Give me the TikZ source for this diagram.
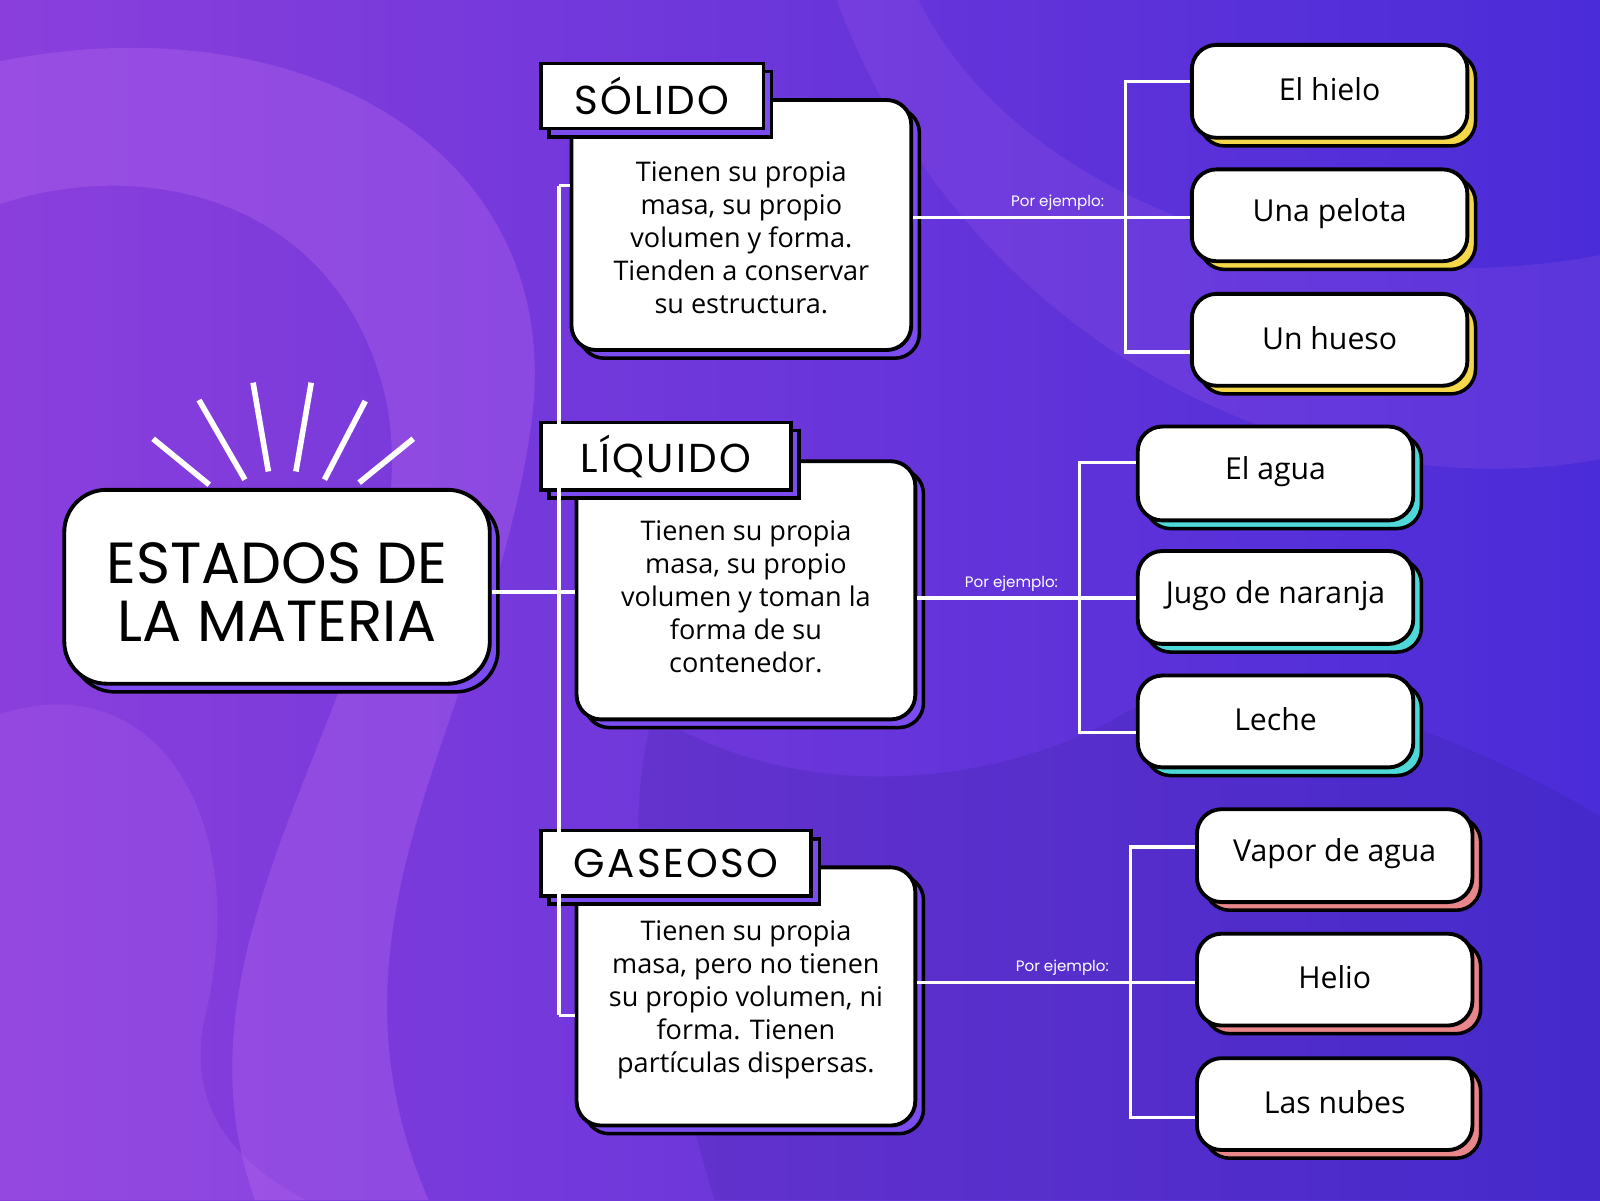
\documentclass[tikz,border=0pt]{standalone}
\usepackage{fontspec}
\setmainfont{Open Sans}
\newfontfamily\hfont[LetterSpace=6]{Poppins}
\newfontfamily\tfont{Poppins}
\usetikzlibrary{shadings}
\definecolor{bgl}{HTML}{8A3FDC}
\definecolor{bgr}{HTML}{4A2CD8}
\definecolor{swl}{HTML}{C070F0}
\definecolor{shp}{HTML}{7B4DF0}
\definecolor{shy}{HTML}{F5D84A}
\definecolor{shc}{HTML}{4FD8D8}
\definecolor{shr}{HTML}{E8868A}
\def\px{0.010204cm}
\tikzset{
 box/.style={draw=black, line width=1.1pt, fill=white, inner sep=0pt, align=center},
 lab/.style={draw=black, line width=1pt, fill=white, inner sep=0pt},
 conn/.style={draw=white, line width=1pt},
 ray/.style={draw=white, line width=1.6pt},
 pe/.style={text=white, font=\tfont\fontsize{4.3}{5}\selectfont, inner sep=1.5pt, anchor=south},
 dtext/.style={font=\fontsize{7.7}{9.4}\selectfont, align=center},
 etext/.style={font=\fontsize{8.6}{10}\selectfont},
 ltext/.style={font=\hfont\fontsize{11.5}{13}\selectfont},
}
\newcommand\mybox[8]{%
 \draw[line width=1pt, fill=#8, rounded corners=#7] ({#2+8},{#3+8}) rectangle ({#4+8},{#5+8});
 \node[#6, rounded corners=#7, minimum width={(#4-#2)*\px}, minimum height={(#5-#3)*\px}] (#1) at ({(#2+#4)/2},{(#3+#5)/2}) {};}
\begin{document}
\begin{tikzpicture}[x=\px, y=-\px]
\shade[left color=bgl, right color=bgr] (0,0) rectangle (1568,1176);
\useasboundingbox (0,0) rectangle (1568,1176);
\fill[swl, opacity=0.3] (0,60) .. controls (300,0) and (560,150) .. (520,420) .. controls (480,700) and (300,900) .. (420,1176) -- (250,1176) .. controls (150,900) and (420,650) .. (380,400) .. controls (340,200) and (150,150) .. (0,200) -- cycle;
\fill[swl, opacity=0.2] (0,700) .. controls (150,650) and (250,800) .. (200,1000) .. controls (180,1100) and (250,1150) .. (300,1176) -- (0,1176) -- cycle;
\fill[swl, opacity=0.15] (900,0) .. controls (1000,200) and (1300,300) .. (1568,250) -- (1568,450) .. controls (1300,500) and (950,350) .. (820,0) -- cycle;
\fill[bgr!70!black, opacity=0.2] (640,700) .. controls (800,800) and (1000,760) .. (1100,700) .. controls (1200,640) and (1400,700) .. (1568,800) -- (1568,1176) -- (700,1176) .. controls (650,1000) and (600,850) .. (640,700) -- cycle;
% rays
\draw[ray] (150,430) -- (205,475);
\draw[ray] (195,392) -- (240,470);
\draw[ray] (248,375) -- (263,462);
\draw[ray] (305,375) -- (290,462);
\draw[ray] (358,393) -- (318,470);
\draw[ray] (405,430) -- (352,473);
% main
\mybox{main}{63}{480}{480}{670}{box}{12pt}{shp}
\node[font=\tfont\fontsize{16.5}{16.5}\selectfont, align=center] at ([yshift=-0.05cm]main.center) {ESTADOS DE\\LA MATERIA};
% desc boxes
\mybox{ds}{560}{98}{893}{343}{box}{7pt}{shp}
\mybox{dl}{565}{452}{897}{705}{box}{7pt}{shp}
\mybox{dg}{565}{850}{897}{1103}{box}{7pt}{shp}
\node[dtext] at ([yshift=-0.13cm]ds.center) {Tienen su propia\\masa, su propio\\volumen y forma.\\Tienden a conservar\\su estructura.};
\node[dtext] at ([yshift=-0.06cm]dl.center) {Tienen su propia\\masa, su propio\\volumen y toman la\\forma de su\\contenedor.};
\node[dtext] at ([yshift=-0.03cm]dg.center) {Tienen su propia\\masa, pero no tienen\\su propio volumen, ni\\forma. Tienen\\partículas dispersas.};
% labels
\mybox{ls}{530}{62}{748}{126}{lab}{0pt}{shp}
\mybox{ll}{530}{414}{775}{480}{lab}{0pt}{shp}
\mybox{lg}{530}{814}{795}{878}{lab}{0pt}{shp}
\node[ltext] at (ls) {SÓLIDO};
\node[ltext] at (ll) {LÍQUIDO};
\node[ltext] at (lg) {GASEOSO};
% left connectors
\coordinate (bus) at (548,580);
\draw[conn] (main.east |- bus) -- (bus);
\draw[conn] (548,182) -- (548,995);
\draw[conn] (548,182) -- (ds.west |- 0,182);
\draw[conn] (bus) -- (dl.west |- bus);
\draw[conn] (548,995) -- (dg.west |- 0,995);
% examples
\mybox{e1}{1168}{44}{1438}{135}{box}{7pt}{shy}
\mybox{e2}{1168}{166}{1438}{256}{box}{7pt}{shy}
\mybox{e3}{1168}{288}{1438}{378}{box}{7pt}{shy}
\mybox{e4}{1115}{418}{1385}{510}{box}{7pt}{shc}
\mybox{e5}{1115}{540}{1385}{631}{box}{7pt}{shc}
\mybox{e6}{1115}{662}{1385}{752}{box}{7pt}{shc}
\mybox{e7}{1173}{793}{1443}{884}{box}{7pt}{shr}
\mybox{e8}{1173}{915}{1443}{1005}{box}{7pt}{shr}
\mybox{e9}{1173}{1037}{1443}{1127}{box}{7pt}{shr}
\foreach \n/\t in {e1/El hielo,e2/Una pelota,e3/Un hueso,e4/El agua,e5/Jugo de naranja,e6/Leche,e7/Vapor de agua,e8/Helio,e9/Las nubes}
 \node[etext] at ([yshift=0.02cm]\n.center) {\t};
% right connectors
\draw[conn] (ds.east |- 0,213) -- (1103,213) node[pe, pos=0.68] {Por ejemplo:};
\draw[conn] (e1.west |- 0,80) -- (1103,80) -- (1103,345) -- (e3.west |- 0,345);
\draw[conn] (1103,213) -- (e2.west |- 0,213);
\draw[conn] (dl.east |- 0,586) -- (1058,586) node[pe, pos=0.58] {Por ejemplo:};
\draw[conn] (e4.west |- 0,453) -- (1058,453) -- (1058,718) -- (e6.west |- 0,718);
\draw[conn] (1058,586) -- (e5.west |- 0,586);
\draw[conn] (dg.east |- 0,963) -- (1108,963) node[pe, pos=0.68] {Por ejemplo:};
\draw[conn] (e7.west |- 0,830) -- (1108,830) -- (1108,1095) -- (e9.west |- 0,1095);
\draw[conn] (1108,963) -- (e8.west |- 0,963);
\end{tikzpicture}
\end{document}
